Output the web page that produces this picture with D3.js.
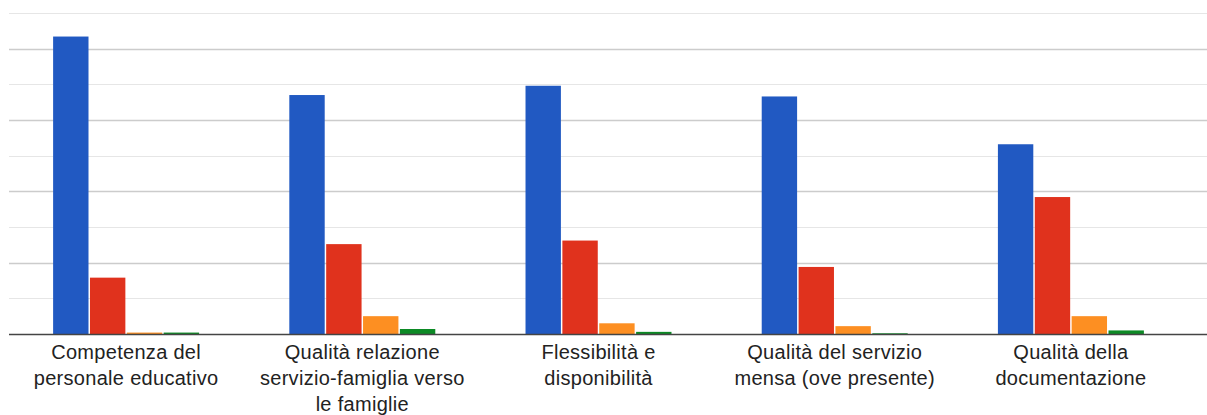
<!DOCTYPE html>
<html>
<head>
<meta charset="utf-8">
<script src="https://cdn.jsdelivr.net/npm/d3@7/dist/d3.min.js"></script>
<style>
  html, body { margin: 0; padding: 0; background: #fff; }
  svg { display: block; }
</style>
</head>
<body>
<svg id="chart" width="1207" height="415"></svg>
<script>
// Aspects evaluated (each label split into display lines)
const categories = [
  ["Competenza del", "personale educativo"],
  ["Qualità relazione", "servizio-famiglia verso", "le famiglie"],
  ["Flessibilità e", "disponibilità"],
  ["Qualità del servizio", "mensa (ove presente)"],
  ["Qualità della", "documentazione"]
];

// Number of responses per rating level
const seriesNames = ["s1", "s2", "s3", "s4"];
const series1 = [417, 335, 348, 333, 266];
const series2 = [79, 126, 131, 94, 192];
const series3 = [2, 25, 15, 11, 25];
const series4 = [2, 7, 3, 1, 5];
const seriesValues = [series1, series2, series3, series4];
const seriesColors = ["#2159c2", "#e0321d", "#fd8f22", "#0c8a25"];

// Gridline values; every other one is a major line
const gridValues = [0, 50, 100, 150, 200, 250, 300, 350, 400, 450];

const svg = d3.select("#chart");
const W = 1207;
const plot = { left: 8, right: 1189, top: 13, bottom: 334 };

const keys = categories.map(c => c.join(" "));

const x = d3.scaleBand()
  .domain(keys)
  .range([plot.left, plot.right])
  .paddingInner(0.382)
  .paddingOuter(0.191);

const xs = d3.scaleBand()
  .domain(seriesNames)
  .range([0, x.bandwidth()])
  .paddingInner(0.04);

const y = d3.scaleLinear()
  .domain([0, 450])
  .range([plot.bottom, plot.top]);

// Gridlines
svg.append("g")
  .selectAll("line")
  .data(gridValues.filter(v => v > 0))
  .join("line")
  .attr("x1", 9)
  .attr("x2", W)
  .attr("y1", d => Math.round(y(d)) + 0.5)
  .attr("y2", d => Math.round(y(d)) + 0.5)
  .attr("stroke", d => d % 100 === 0 ? "#cccccc" : "#e6e6e6")
  .attr("stroke-width", d => d % 100 === 0 ? 1.5 : 1.2);

// Bars
const groups = svg.append("g")
  .selectAll("g")
  .data(keys)
  .join("g")
  .attr("transform", d => `translate(${x(d)},0)`);

groups.selectAll("rect")
  .data((d, i) => seriesNames.map((s, j) => ({ s, j, v: seriesValues[j][i] })))
  .join("rect")
  .attr("x", d => xs(d.s))
  .attr("width", xs.bandwidth())
  .attr("y", d => y(d.v))
  .attr("height", d => y(0) - y(d.v))
  .attr("fill", d => seriesColors[d.j]);

// Baseline
svg.append("line")
  .attr("x1", 9)
  .attr("x2", W)
  .attr("y1", y(0) + 0.5)
  .attr("y2", y(0) + 0.5)
  .attr("stroke", "#444")
  .attr("stroke-width", 1.5);

// Category labels
const labels = svg.append("g")
  .attr("font-family", "Helvetica, Arial, 'Liberation Sans', sans-serif")
  .attr("font-size", 20)
  .attr("letter-spacing", 0.3)
  .attr("fill", "#222")
  .attr("text-anchor", "middle");

categories.forEach((lines, i) => {
  const cx = x(keys[i]) + x.bandwidth() / 2;
  const t = labels.append("text")
    .attr("x", cx)
    .attr("y", 359);
  lines.forEach((ln, k) => {
    t.append("tspan")
      .attr("x", cx)
      .attr("dy", k === 0 ? 0 : 26)
      .text(ln);
  });
});
</script>
</body>
</html>
